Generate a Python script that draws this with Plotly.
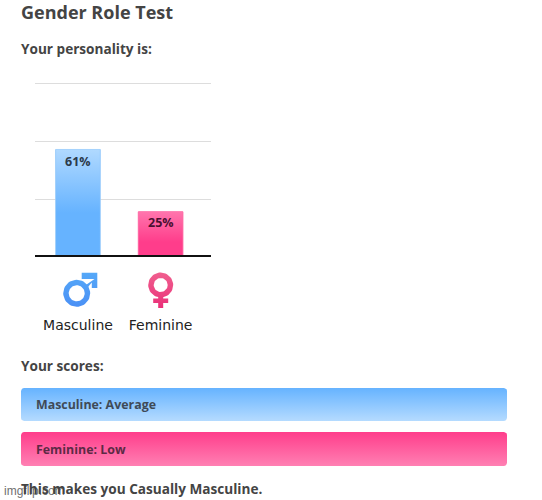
import math
import plotly.graph_objects as go

categories = ["Masculine", "Feminine"]
bar_values = [61, 25]
bar_labels = ["61%", "25%"]
grid_ticks = [32.2, 65.7, 99.2]
scores = ["Masculine: Average", "Feminine: Low"]

W, H = 542, 500
FONT = "Open Sans"
TXT = "#444444"
positions = list(range(len(categories)))
fig = go.Figure()


def grad(y0, y1, stops):
    return dict(type="vertical", start=y0, stop=y1, colorscale=stops)


def poly(xs, ys, g, xa="x2", ya="y2"):
    fig.add_trace(go.Scatter(x=xs, y=ys, mode="lines", line=dict(width=0), fill="toself",
                             fillgradient=g, xaxis=xa, yaxis=ya, hoverinfo="skip", showlegend=False))


def arc(cx, cy, r, a0, a1, n=48):
    return [(cx + r * math.cos(a0 + (a1 - a0) * i / n), cy + r * math.sin(a0 + (a1 - a0) * i / n)) for i in range(n + 1)]


def rrect(x0, y0, x1, y1, r=3):
    p = arc(x1 - r, y0 + r, r, -math.pi / 2, 0, 6) + arc(x1 - r, y1 - r, r, 0, math.pi / 2, 6)
    p += arc(x0 + r, y1 - r, r, math.pi / 2, math.pi, 6) + arc(x0 + r, y0 + r, r, math.pi, 1.5 * math.pi, 6)
    p.append(p[0])
    return [a for a, _ in p], [b for _, b in p]


# chart bars: outline bar trace, gradient laid over it
fig.add_trace(go.Bar(x=positions, y=bar_values, width=0.54, hoverinfo="skip", showlegend=False,
                     marker=dict(color=["#7fbfff", "#ff5a9c"], line=dict(color=["#9ccdfb", "#ff6fa8"], width=1))))
bar_grads = [
    [[0, "#b0d9ff"], [0.6, "#66b3ff"], [1, "#66b3ff"]],
    [[0, "#ff75ad"], [0.7, "#ff3d8b"], [1, "#ff3d8b"]],
]
for i, v in enumerate(bar_values):
    poly([i - .265, i - .265, i + .265, i + .265, i - .265], [0, v, v, 0, 0],
         grad(v, 0, bar_grads[i]), "x", "y")

# score bars, in page pixels
for (y0, y1, stops) in [
    (388, 421, [[0, "#66b3ff"], [1, "#b5dbff"]]),
    (432, 466, [[0, "#ff3d8b"], [1, "#ff80b3"]]),
]:
    xs, ys = rrect(21, y0, 507, y1)
    poly(xs, ys, grad(y0, y1, stops))

# male icon
mc = (76.7, 293.3)
outer = arc(*mc, 13.5, 0, 2 * math.pi)
inner = arc(*mc, 8, 2 * math.pi, 0)
mg = grad(273, 307, [[0, "#55a8f8"], [1, "#4a90f5"]])
poly([p[0] for p in outer] + [None] + [p[0] for p in inner],
     [p[1] for p in outer] + [None] + [p[1] for p in inner], mg)
poly([83, 94.5, 81.7, 81.7, 97.3, 97.3, 91.8, 91.8, 85.5],
     [287, 279, 279, 272.7, 272.7, 288, 288, 282.5, 290], mg)

# female icon
fc = (160.7, 285)
outer = arc(*fc, 12.5, 0, 2 * math.pi)
inner = arc(*fc, 7, 2 * math.pi, 0)
fg = grad(272, 308, [[0, "#f0608f"], [1, "#ea2f78"]])
poly([p[0] for p in outer] + [None] + [p[0] for p in inner],
     [p[1] for p in outer] + [None] + [p[1] for p in inner], fg)
poly([158.2, 163.2, 163.2, 168.2, 168.2, 163.2, 163.2, 158.2, 158.2, 153.2, 153.2, 158.2, 158.2],
     [296, 296, 298.5, 298.5, 303, 303, 308, 308, 303, 303, 298.5, 298.5, 296], fg)


def note(x, y, text, size, color=TXT, bold=True, family=FONT, anchor="left", xref="x2", yref="y2", opacity=1):
    t = f"<b>{text}</b>" if bold else text
    fig.add_annotation(x=x, y=y, xref=xref, yref=yref, text=t, showarrow=False, xanchor=anchor, yanchor="middle",
                       xshift=-2 if anchor == "left" else 0,
                       font=dict(family=family, size=size, color=color), opacity=opacity)


note(21, 12, "Gender Role Test", 18)
note(21, 48.5, "Your personality is:", 13.6)
note(21, 365.5, "Your scores:", 13.6)
note(36, 404.5, scores[0], 12.4, "#3f4a57")
note(36, 449.5, scores[1], 12.4, "#5c2a45")
note(4, 491, "imgflip.com", 12, "#555555", bold=False, family="Liberation Sans", opacity=0.85)
note(21, 488, "This makes you Casually Masculine.", 13.6)
note(78, 161, bar_labels[0], 12.5, "#2b3a4a", anchor="center")
note(160.5, 222, bar_labels[1], 12.5, "#4a1030", anchor="center")

PX = 1.73  # pixels per percent
fig.update_layout(
    width=W, height=H, margin=dict(l=0, r=0, t=0, b=0), paper_bgcolor="white", plot_bgcolor="rgba(0,0,0,0)",
    xaxis=dict(domain=[35 / W, 211 / W], range=[-0.52, 1.61], tickvals=positions, ticktext=categories,
               showline=True, linecolor="#111111", linewidth=1.5, showgrid=False, zeroline=False,
               ticks="", ticklabelstandoff=56, fixedrange=True, automargin=False,
               tickfont=dict(family="DejaVu Sans", size=14, color="#222222")),
    yaxis=dict(domain=[(H - 255) / H, (H - 75) / H], range=[0, 180 / PX], tickvals=grid_ticks,
               showticklabels=False, gridcolor="#dddddd", gridwidth=1, zeroline=False, ticks="", fixedrange=True,
               automargin=False),
    xaxis2=dict(domain=[0, 1], range=[0, W], visible=False, anchor="y2", fixedrange=True),
    yaxis2=dict(domain=[0, 1], range=[H, 0], visible=False, anchor="x2", fixedrange=True),
)
fig.write_html("out.html", config=dict(displayModeBar=False),
               post_script="document.body.style.margin='0';document.body.style.overflow='hidden';")
